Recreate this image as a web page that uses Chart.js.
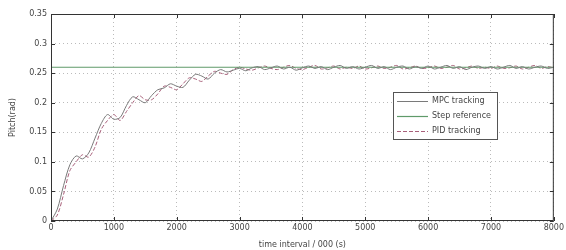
<!DOCTYPE html>
<html>
<head>
    <title>pitch-tracking</title>
    <meta charset="utf-8">
    <script src="https://cdn.jsdelivr.net/npm/chart.js"></script>
    <style>
        body { margin: 0; background: #fff; }
        #wrap { width: 566px; height: 250px; }
    </style>
</head>
<body>
    <div id="wrap">
        <canvas id="pitchchart" width="566" height="250"></canvas>
    </div>

    <script>
        // time axis (s), one sample every 100
        const times = [
            0, 100, 200, 300, 400, 500, 600, 700, 800, 900,
            1000, 1100, 1200, 1300, 1400, 1500, 1600, 1700, 1800, 1900,
            2000, 2100, 2200, 2300, 2400, 2500, 2600, 2700, 2800, 2900,
            3000, 3100, 3200, 3300, 3400, 3500, 3600, 3700, 3800, 3900,
            4000, 4100, 4200, 4300, 4400, 4500, 4600, 4700, 4800, 4900,
            5000, 5100, 5200, 5300, 5400, 5500, 5600, 5700, 5800, 5900,
            6000, 6100, 6200, 6300, 6400, 6500, 6600, 6700, 6800, 6900,
            7000, 7100, 7200, 7300, 7400, 7500, 7600, 7700, 7800, 7900,
            8000
        ];
        const mpcTracking = [
            0.000, 0.020, 0.060, 0.095, 0.110, 0.105, 0.115, 0.140, 0.165, 0.180,
            0.172, 0.175, 0.195, 0.210, 0.205, 0.200, 0.212, 0.222, 0.225, 0.232,
            0.228, 0.226, 0.238, 0.248, 0.245, 0.240, 0.250, 0.256, 0.252, 0.255,
            0.258, 0.254, 0.259, 0.261, 0.256, 0.259, 0.262, 0.257, 0.260, 0.255,
            0.259, 0.262, 0.258, 0.261, 0.256, 0.260, 0.263, 0.258, 0.261, 0.257,
            0.260, 0.263, 0.258, 0.261, 0.256, 0.260, 0.262, 0.257, 0.261, 0.258,
            0.262, 0.257, 0.260, 0.263, 0.258, 0.261, 0.256, 0.260, 0.262, 0.258,
            0.261, 0.257, 0.260, 0.263, 0.258, 0.261, 0.257, 0.260, 0.262, 0.258,
            0.260
        ];
        const pidTracking = [
            0.000, 0.010, 0.045, 0.085, 0.100, 0.112, 0.108, 0.125, 0.155, 0.170,
            0.180, 0.170, 0.185, 0.200, 0.212, 0.205, 0.205, 0.215, 0.228, 0.226,
            0.222, 0.232, 0.242, 0.240, 0.236, 0.245, 0.253, 0.250, 0.248, 0.256,
            0.260, 0.257, 0.255, 0.259, 0.262, 0.258, 0.256, 0.260, 0.263, 0.258,
            0.256, 0.260, 0.263, 0.257, 0.259, 0.262, 0.257, 0.260, 0.258, 0.262,
            0.257, 0.259, 0.262, 0.258, 0.260, 0.263, 0.257, 0.259, 0.262, 0.258,
            0.259, 0.262, 0.258, 0.260, 0.263, 0.257, 0.259, 0.262, 0.258, 0.260,
            0.258, 0.262, 0.258, 0.259, 0.262, 0.257, 0.260, 0.263, 0.258, 0.261,
            0.259
        ];
        const stepTimes = [0, 8000];
        const stepReference = [0.26, 0.26];

        const seriesLabels = ['MPC tracking', 'Step reference', 'PID tracking'];
        const xTitle = 'time interval / 000 (s)';
        const yTitle = 'Pitch(rad)';

        const toPoints = (xs, ys) => xs.map((x, i) => ({ x: x, y: ys[i] }));

        const axisColor = '#333';
        const textColor = '#444';
        const fontFamily = '"DejaVu Sans", sans-serif';

        // box frame + inward tick marks, matlab style
        const frameTicks = {
            id: 'frameTicks',
            afterDraw(chart) {
                const ctx = chart.ctx;
                const a = chart.chartArea;
                const xs = chart.scales.x, ys = chart.scales.y;
                ctx.save();
                ctx.strokeStyle = axisColor;
                ctx.lineWidth = 1;
                ctx.strokeRect(a.left + 0.5, a.top + 0.5, a.right - a.left - 1, a.bottom - a.top - 1);
                ctx.beginPath();
                xs.ticks.forEach(t => {
                    const px = Math.round(xs.getPixelForValue(t.value)) + 0.5;
                    ctx.moveTo(px, a.bottom); ctx.lineTo(px, a.bottom - 4);
                    ctx.moveTo(px, a.top); ctx.lineTo(px, a.top + 4);
                });
                ys.ticks.forEach(t => {
                    const py = Math.round(ys.getPixelForValue(t.value)) + 0.5;
                    ctx.moveTo(a.left, py); ctx.lineTo(a.left + 4, py);
                    ctx.moveTo(a.right, py); ctx.lineTo(a.right - 4, py);
                });
                ctx.stroke();
                ctx.restore();
            }
        };

        // legend box inside the plot
        const boxLegend = {
            id: 'boxLegend',
            afterDraw(chart) {
                const ctx = chart.ctx;
                const x0 = 393, y0 = 92, w = 104, h = 47;
                ctx.save();
                ctx.fillStyle = '#fff';
                ctx.fillRect(x0, y0, w, h);
                ctx.strokeStyle = '#555';
                ctx.lineWidth = 1;
                ctx.strokeRect(x0 + 0.5, y0 + 0.5, w, h);
                ctx.font = '8px ' + fontFamily;
                ctx.textBaseline = 'middle';
                ctx.fillStyle = textColor;
                chart.data.datasets.forEach((ds, i) => {
                    const ly = y0 + 9 + i * 15;
                    ctx.strokeStyle = ds.borderColor;
                    ctx.lineWidth = ds.borderWidth;
                    ctx.setLineDash(ds.borderDash || []);
                    ctx.beginPath();
                    ctx.moveTo(x0 + 4, ly + 0.5);
                    ctx.lineTo(x0 + 35, ly + 0.5);
                    ctx.stroke();
                    ctx.setLineDash([]);
                    ctx.fillText(ds.label, x0 + 39, ly);
                });
                ctx.restore();
            }
        };

        new Chart(document.getElementById('pitchchart'), {
            type: 'line',
            data: {
                datasets: [{
                    label: seriesLabels[0],
                    data: toPoints(times, mpcTracking),
                    borderColor: '#7a7a7a',
                    borderWidth: 1,
                    pointRadius: 0,
                    tension: 0.3,
                    fill: false
                }, {
                    label: seriesLabels[1],
                    data: toPoints(stepTimes, stepReference),
                    borderColor: '#5f9a6a',
                    borderWidth: 1.2,
                    pointRadius: 0,
                    fill: false
                }, {
                    label: seriesLabels[2],
                    data: toPoints(times, pidTracking),
                    borderColor: '#a8607a',
                    borderWidth: 1,
                    borderDash: [4, 2],
                    pointRadius: 0,
                    tension: 0.3,
                    fill: false
                }]
            },
            options: {
                responsive: false,
                animation: false,
                layout: { padding: { top: 14, right: 9, left: 0, bottom: 0 } },
                plugins: {
                    legend: { display: false },
                    tooltip: { enabled: false }
                },
                scales: {
                    x: {
                        type: 'linear',
                        min: 0,
                        max: 8000,
                        ticks: {
                            stepSize: 1000,
                            color: textColor,
                            font: { size: 8, family: fontFamily },
                            padding: 2,
                            maxRotation: 0,
                            callback: v => String(v)
                        },
                        grid: { color: '#bbb', drawTicks: false },
                        border: { display: false, dash: [1, 3] },
                        title: {
                            display: true,
                            text: xTitle,
                            color: textColor,
                            font: { size: 8, family: fontFamily },
                            padding: { top: 2, bottom: 0 }
                        },
                        afterFit: scale => { scale.height = 29; }
                    },
                    y: {
                        min: 0,
                        max: 0.35,
                        ticks: {
                            stepSize: 0.05,
                            color: textColor,
                            font: { size: 8, family: fontFamily },
                            padding: 4,
                            callback: v => String(+v.toFixed(2))
                        },
                        grid: { color: '#bbb', drawTicks: false },
                        border: { display: false, dash: [1, 3] },
                        title: {
                            display: true,
                            text: yTitle,
                            color: textColor,
                            font: { size: 8, family: fontFamily },
                            padding: { top: 8, bottom: 2 }
                        },
                        afterFit: scale => { scale.width = 51; }
                    }
                }
            },
            plugins: [frameTicks, boxLegend]
        });
    </script>
</body>
</html>
